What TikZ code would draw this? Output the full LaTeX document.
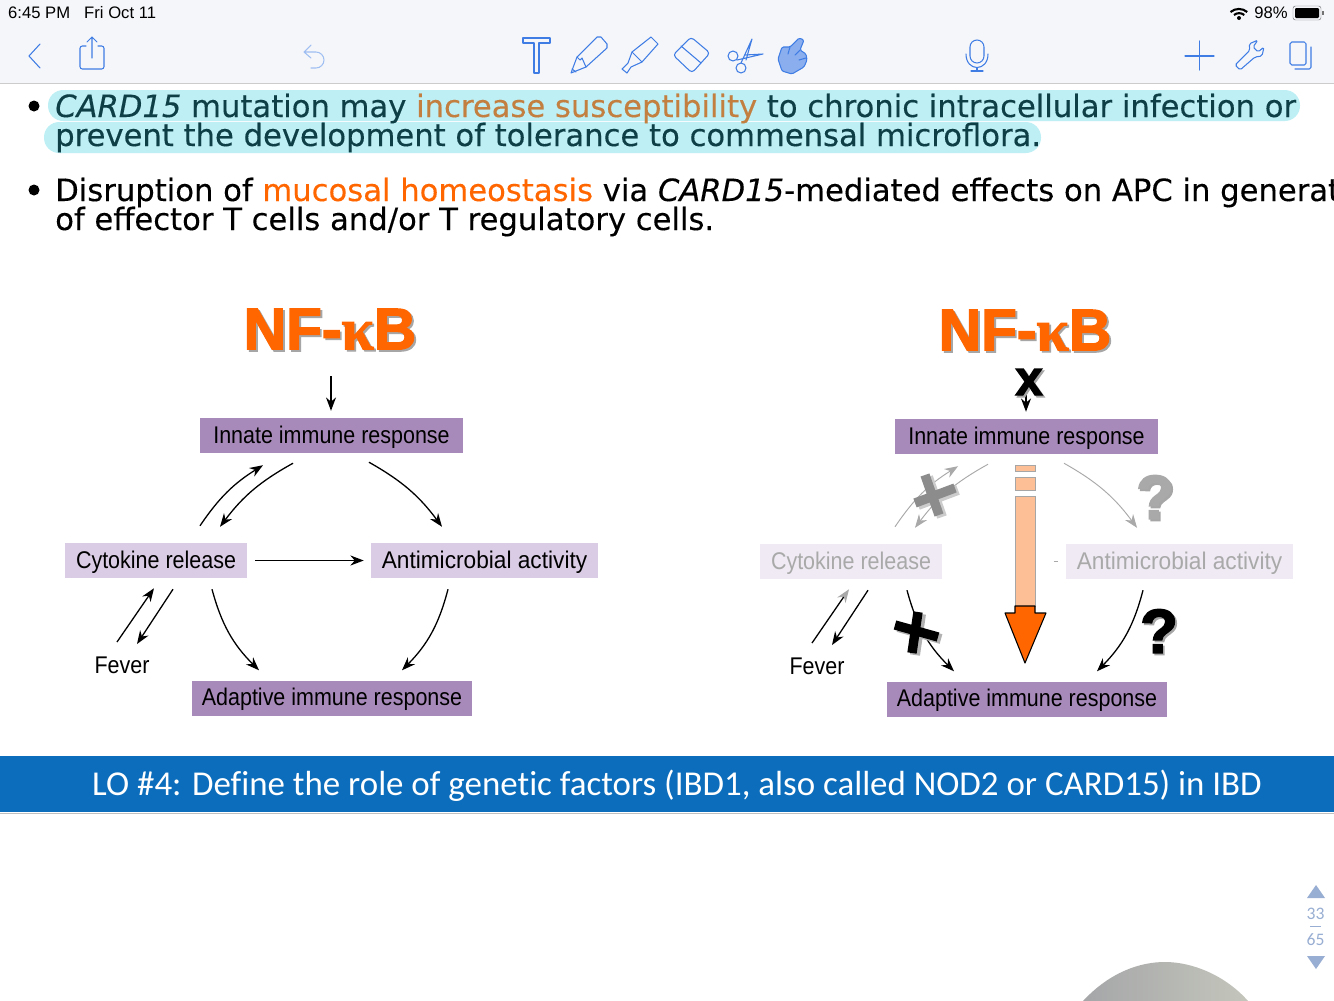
\documentclass[tikz,border=0pt]{standalone}
\usepackage{fontspec}
\usepackage{xcolor}
\usetikzlibrary{arrows.meta}
\setmainfont{Liberation Sans}
\newfontfamily\bodyfont[FakeBold=0.25]{DejaVu Sans}
\newfontfamily\bannerfont[Ligatures=NoCommon]{Carlito}
\newfontfamily\heavyfont[FakeBold=2.5]{Liberation Sans Bold}
\newfontfamily\kappafont[FakeBold=2]{Liberation Serif Bold}
\newfontfamily\boxfont[FakeStretch=0.89]{Liberation Sans}
\newfontfamily\wideboxfont[FakeStretch=0.94]{Liberation Sans}
\definecolor{barbg}{HTML}{F5F6FA}
\definecolor{toolblue}{HTML}{3F7DE4}
\definecolor{toolfill}{HTML}{8AAEEE}
\definecolor{sideblue}{HTML}{98AED2}
\definecolor{marktext}{HTML}{0E3F47}
\definecolor{markorange}{HTML}{C27F3F}
\definecolor{markbg}{HTML}{BDEFF5}
\definecolor{nforange}{HTML}{FF6600}
\definecolor{softorange}{HTML}{FDBF96}
\definecolor{deeppurple}{HTML}{A88ABA}
\definecolor{palepurple}{HTML}{DACCE4}
\definecolor{fadepurple}{HTML}{EFEAF3}
\definecolor{fadetext}{HTML}{A9A9A9}
\definecolor{bannerblue}{HTML}{0B6DBB}
\definecolor{domeleft}{HTML}{A5A6A8}
\definecolor{domeright}{HTML}{C4C6BC}
\newcommand{\softshade}[1]{\leavevmode\rlap{\kern1.6pt\raisebox{-1.6pt}{\color{black!35}#1}}#1}
\begin{document}
\begin{tikzpicture}[
        x=0.03cm, y=-0.03cm,
        bodyline/.style={anchor=base west, inner sep=0, font=\bodyfont\fontsize{26.15}{30}\selectfont},
        nftitle/.style={inner sep=0, text=nforange, font=\heavyfont\fontsize{50}{54}\selectfont},
        outerbox/.style={fill=deeppurple, minimum width=263*0.03cm, minimum height=35*0.03cm, inner sep=0, text height=15.8pt, text depth=3pt, font=\boxfont\fontsize{20.6}{22}\selectfont},
        innerbox/.style={fill=palepurple, minimum height=35*0.03cm, inner sep=0, text height=15.8pt, text depth=3pt, font=\boxfont\fontsize{20.6}{22}\selectfont},
        fadebox/.style={fill=fadepurple, text=fadetext, minimum height=35*0.03cm, inner sep=0, text height=15.8pt, text depth=3pt, font=\boxfont\fontsize{20.6}{22}\selectfont},
        plainlabel/.style={inner sep=0, font=\boxfont\fontsize{20.6}{22}\selectfont},
        heavymark/.style={inner sep=0, font=\heavyfont\fontsize{53}{58}\selectfont},
        flow/.style={-{Stealth[length=4mm, width=3mm]}, line width=1.1pt},
        fadeflow/.style={-{Stealth[length=4mm, width=3mm]}, line width=0.8pt, draw=fadetext},
        icon/.style={draw=toolblue, line width=0.9pt, line join=round, line cap=round},
        sidelabel/.style={inner sep=0, text=sideblue, font=\bannerfont\fontsize{15}{17}\selectfont},
        statuslabel/.style={inner sep=0, font=\fontsize{14.2}{16}\selectfont}
    ]
        \useasboundingbox (0,0) rectangle (1334,1001);
        \fill[white] (0,0) rectangle (1334,1001);

        % top bar
        \fill[barbg] (0,0) rectangle (1334,83);
        \draw[black!20, line width=0.9pt] (0,83.5) -- (1334,83.5);
        \node[statuslabel, anchor=west] (clock) at (8,13) {6:45 PM\hspace{12pt}Fri Oct 11};
        \node[statuslabel, anchor=east] (charge) at (1288,13) {98\%};
        \draw[black, line width=1.8pt] (1230.5,12) arc[start angle=230, end angle=310, radius=13];
        \draw[black, line width=1.8pt] (1234,15) arc[start angle=230, end angle=310, radius=8];
        \fill[black] (1239,18) circle[radius=2];
        \draw[black!55, rounded corners=2pt] (1293,6) rectangle (1321,20);
        \fill[black, rounded corners=1pt] (1295,8) rectangle (1319,18);
        \fill[black!55] (1322,11) rectangle (1323.5,15);

        % tools
        \draw[icon] (40,44) -- (29,56) -- (40,68);
        \draw[icon, rounded corners=2pt] (86,46) -- (80,46) -- (80,69) -- (104,69) -- (104,46) -- (98,46);
        \draw[icon] (92,58) -- (92,37) (87,42) -- (92,37) -- (97,42);
        \draw[icon, toolblue!50] (311,45) -- (304,52) -- (311,58) (304,52) -- (316,52) arc[start angle=-90, end angle=90, radius=8] -- (311,68);
        \draw[icon] (523,38) -- (550,38) -- (550,43) -- (539,43) -- (539,73) -- (534,73) -- (534,43) -- (523,43) -- cycle;
        \draw[icon] (571,73) -- (577,57) -- (597,37) -- (601,37) -- (607,44) -- (607,48) -- (586,67) -- cycle;
        \draw[icon] (577,57) -- (580,60) -- (582,58) -- (586,67) (572,69) -- (576,72);
        \draw[icon] (622,69) -- (628,63) -- (632,52) -- (651,37) -- (658,44) -- (642,62) -- (631,67) -- (627,73) -- cycle;
        \draw[icon] (632,52) -- (642,62);
        \draw[icon, rounded corners=3pt] (673,55) -- (691,37) -- (710,53) -- (692,73) -- cycle;
        \draw[icon] (681,46) -- (701,63);
        \draw[icon] (733,56) circle[radius=5] (741,68) circle[radius=5];
        \draw[icon] (737,60) -- (763,54) -- (745,55) (741,63) -- (752,39) -- (746,60);
        \draw[icon, fill=toolfill, rounded corners=1.2pt] (778,59) -- (782,47) -- (790,47) -- (799,38) -- (804,40) -- (800,50) -- (806,54) -- (807,60) -- (804,67) -- (792,74) -- (782,71) -- cycle;
        \draw[icon] (790,47) -- (788,54) (800,50) -- (795,55) (806,58) -- (799,60);
        \draw[icon, rounded corners=6pt] (970,40) rectangle (984,63);
        \draw[icon] (966,54) .. controls (966,72) and (988,72) .. (988,54);
        \draw[icon] (977,68) -- (977,71) (971,71) -- (983,71);
        \draw[icon] (1185,56) -- (1214,56) (1199.5,41) -- (1199.5,70);
        \draw[icon, rounded corners=1.5pt] (1235,65) -- (1250,50) -- (1249,44) -- (1258,40) -- (1253,47) -- (1258,52) -- (1264,47) -- (1262,56) -- (1255,57) -- (1240,70) -- cycle;
        \draw[icon, rounded corners=1.5pt] (1290,42) rectangle (1306,65);
        \draw[icon, rounded corners=1.5pt] (1311,47) -- (1311,69) -- (1295,69);

        % bullet text
        \fill[markbg, rounded corners=13pt] (48,90) rectangle (1300,121);
        \fill[markbg, rounded corners=13pt] (44,122) rectangle (1041,153);
        \fill[black] (34,106) circle[radius=5.5];
        \fill[black] (34,190) circle[radius=5.5];
        \node[bodyline, text=marktext] (firstline) at (55,117) {\textit{CARD15} mutation may {\color{markorange}increase susceptibility} to chronic intracellular infection or};
        \node[bodyline, text=marktext] (secondline) at (55,146) {prevent the development of tolerance to commensal microflora.};
        \node[bodyline] (thirdline) at (55,201) {Disruption of {\color{nforange}mucosal homeostasis} via \textit{CARD15}-mediated effects on APC in generat};
        \node[bodyline] (fourthline) at (55,230) {of effector T cells and/or T regulatory cells.};

        % left scheme
        \node[nftitle] (nfleft) at (330,330) {\softshade{NF-{\kappafont κ}B}};
        \node[outerbox] (innateleft) at (331.5,435.5) {Innate immune response};
        \node[innerbox, minimum width=182*0.03cm] (cytoleft) at (156,560.5) {Cytokine release};
        \node[innerbox, minimum width=227*0.03cm, font=\wideboxfont\fontsize{20.6}{22}\selectfont] (antileft) at (484.5,560.5) {Antimicrobial activity};
        \node[outerbox, minimum width=280*0.03cm] (adaptleft) at (332,698) {Adaptive immune response};
        \node[plainlabel] (feverleft) at (122,665) {Fever};

        \draw[flow] ([shift={(1,46)}]nfleft.center) -- ([shift={(-0.5,-7)}]innateleft.north);
        \draw[flow] ([shift={(44,-17)}]cytoleft.north) to[bend left=12] ([shift={(-68.5,12)}]innateleft.south);
        \draw[flow] ([shift={(-38.5,10)}]innateleft.south) to[bend right=12] ([shift={(64,-16)}]cytoleft.north);
        \draw[flow] ([shift={(37.5,9)}]innateleft.south) to[bend left=12] ([shift={(-42.5,-16)}]antileft.north);
        \draw[flow, line width=1.6pt] ([shift={(8,0)}]cytoleft.east) -- ([shift={(-7,0)}]antileft.west);
        \draw[flow] ([shift={(-5,-23)}]feverleft.center) -- ([shift={(-2,10)}]cytoleft.south);
        \draw[flow] ([shift={(17,11)}]cytoleft.south) -- ([shift={(15,-21)}]feverleft.center);
        \draw[flow] ([shift={(56,11)}]cytoleft.south) to[bend right=15] ([shift={(-73,-10)}]adaptleft.north);
        \draw[flow] ([shift={(-36.5,11)}]antileft.south) to[bend left=15] ([shift={(70,-10)}]adaptleft.north);

        % right scheme
        \node[nftitle] (nfright) at (1025,331) {\softshade{NF-{\kappafont κ}B}};
        \node[outerbox] (innateright) at (1026.5,436.5) {Innate immune response};
        \node[fadebox, minimum width=182*0.03cm] (cytoright) at (851,561.5) {Cytokine release};
        \node[fadebox, minimum width=227*0.03cm, font=\wideboxfont\fontsize{20.6}{22}\selectfont] (antiright) at (1179.5,561.5) {Antimicrobial activity};
        \node[outerbox, minimum width=280*0.03cm] (adaptright) at (1027,699) {Adaptive immune response};
        \node[plainlabel] (feverright) at (817,666) {Fever};

        \draw[flow] ([shift={(1,64)}]nfright.center) -- ([shift={(-0.5,-7)}]innateright.north);
        \draw[fadeflow] ([shift={(44,-17)}]cytoright.north) to[bend left=12] ([shift={(-68.5,12)}]innateright.south);
        \draw[fadeflow] ([shift={(-38.5,10)}]innateright.south) to[bend right=12] ([shift={(64,-16)}]cytoright.north);
        \draw[fadeflow] ([shift={(37.5,9)}]innateright.south) to[bend left=12] ([shift={(-42.5,-16)}]antiright.north);
        \draw[fadetext, line width=0.8pt] ([shift={(-12,0)}]antiright.west) -- ([shift={(-8,0)}]antiright.west);
        \draw[flow, -{Stealth[length=4mm, width=3mm, color=fadetext]}] ([shift={(-5,-23)}]feverright.center) -- ([shift={(-2,10)}]cytoright.south);
        \draw[flow] ([shift={(17,11)}]cytoright.south) -- ([shift={(15,-21)}]feverright.center);
        \draw[flow] ([shift={(56,11)}]cytoright.south) to[bend right=15] ([shift={(-73,-10)}]adaptright.north);
        \draw[flow] ([shift={(-36.5,11)}]antiright.south) to[bend left=15] ([shift={(70,-10)}]adaptright.north);

        % big arrow
        \draw[fill=softorange, draw=black!35, line width=0.8pt] (1015,465) rectangle (1035,471);
        \draw[fill=softorange, draw=black!35, line width=0.8pt] (1015,477) rectangle (1035,490);
        \draw[fill=softorange, draw=black!35, line width=0.8pt] (1015,496) rectangle (1035,606);
        \draw[fill=nforange, draw=black, line width=0.9pt, line join=round] (1015,606) -- (1035,606) -- (1035,613) -- (1046,613) -- (1025,663) -- (1005,613) -- (1015,613) -- cycle;

        % marks
        \draw[black!20, line width=8.5pt] (928,477) -- (942,517) (918,505) -- (958,490);
        \draw[black!45, line width=8pt] (925,475) -- (939,515) (915,503) -- (955,488);
        \draw[black!30, line width=8.5pt] (921,614) -- (915,655) (898,627) -- (941,639);
        \draw[black, line width=8pt] (918,612) -- (912,653) (895,625) -- (938,637);
        \node[heavymark, font=\heavyfont\fontsize{42}{46}\selectfont] (noentry) at (1029,383) {\softshade{x}};
        \node[heavymark, text=fadetext] (askupper) at (1155,498) {\softshade{?}};
        \node[heavymark] (asklower) at (1159,632) {\softshade{?}};

        % banner
        \fill[bannerblue] (0,756) rectangle (1334,812);
        \draw[black!25, line width=0.8pt] (0,813) -- (1334,813);
        \node[inner sep=0, text=white, font=\bannerfont\fontsize{29.8}{33}\selectfont] (banner) at (677,786) {LO \#4: Define the role of genetic factors (IBD1, also called NOD2 or CARD15) in IBD};

        % page counter
        \fill[sideblue] (1316,885) -- (1325,898) -- (1307,898) -- cycle;
        \node[sidelabel] (pagenow) at (1315.5,914) {33};
        \draw[sideblue, line width=0.8pt] (1310,926) -- (1321,926);
        \node[sidelabel] (pagelast) at (1315.5,940) {65};
        \fill[sideblue] (1316,969) -- (1325,956) -- (1307,956) -- cycle;
        \shade[left color=domeleft, right color=domeright] (1083,1001) .. controls (1110,972) and (1140,962) .. (1165,962) .. controls (1192,962) and (1225,975) .. (1248,1001) -- cycle;
    \end{tikzpicture}
\end{document}
